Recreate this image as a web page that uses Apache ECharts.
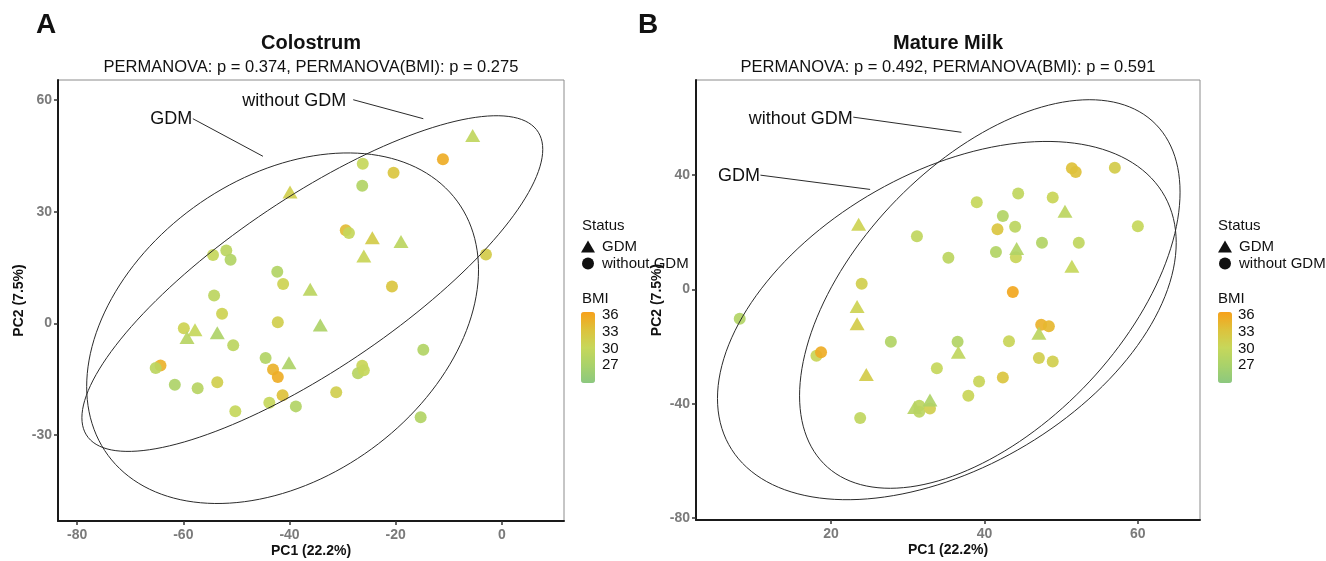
<!DOCTYPE html>
<html>
<head>
<meta charset="utf-8">
<script src="https://cdn.jsdelivr.net/npm/echarts@6/dist/echarts.min.js"></script>
<style>
  html, body { margin: 0; padding: 0; background: #fff; }
  #chart { width: 1326px; height: 561px; }
</style>
</head>
<body>
<div id="chart"></div>
<script>
// points: [PC1, PC2, BMI]
const colostrumNoGDM = [
  [-26.2, 42.9, 30], [-11.1, 44.1, 35.5], [-20.4, 40.5, 33], [-26.3, 37.0, 28],
  [-29.4, 25.0, 34], [-28.8, 24.3, 30], [-3.0, 18.5, 32], [-42.3, 13.9, 28],
  [-41.2, 10.6, 31], [-20.7, 9.9, 33], [-42.2, 0.3, 31.5], [-54.4, 18.4, 30],
  [-51.9, 19.6, 29], [-51.1, 17.1, 28], [-54.2, 7.5, 29], [-52.7, 2.6, 31],
  [-59.9, -1.3, 31], [-50.6, -5.9, 29], [-64.3, -11.3, 35], [-65.2, -12.0, 29],
  [-61.6, -16.5, 27.5], [-57.3, -17.4, 28.5], [-53.6, -15.8, 31.5], [-44.5, -9.3, 28],
  [-43.1, -12.4, 35], [-42.2, -14.4, 35.5], [-41.3, -19.3, 33.5], [-43.8, -21.3, 30],
  [-50.2, -23.6, 30], [-38.8, -22.3, 28], [-14.8, -7.1, 28], [-26.3, -11.4, 30.5],
  [-27.1, -13.4, 28.5], [-26.0, -12.6, 30], [-31.2, -18.5, 31.5], [-15.3, -25.2, 28]
];
const colostrumGDM = [
  [-5.5, 50.5, 29.5], [-39.9, 35.3, 31.5], [-24.4, 23.0, 32], [-19.0, 22.0, 29],
  [-26.0, 18.1, 30.5], [-36.1, 9.2, 29], [-34.2, -0.4, 27.5], [-57.8, -1.7, 30],
  [-59.3, -3.8, 28.5], [-53.6, -2.5, 27.5], [-40.1, -10.6, 27.5]
];
const matureNoGDM = [
  [31.2, 18.6, 29.5], [35.3, 11.1, 29], [39.0, 30.5, 30], [44.4, 33.6, 29.5],
  [42.4, 25.7, 28], [41.7, 21.1, 33], [44.0, 21.9, 29], [41.5, 13.1, 28],
  [44.1, 11.3, 30.5], [43.7, -0.9, 36], [47.5, 16.3, 28], [48.9, 32.2, 30.5],
  [52.3, 16.3, 29.5], [51.4, 42.4, 33.5], [51.9, 41.1, 33.5], [57.0, 42.6, 32],
  [60.0, 22.1, 30], [24.0, 2.0, 31.5], [8.1, -10.3, 28], [27.8, -18.3, 28],
  [36.5, -18.3, 28], [18.1, -23.2, 30.5], [18.7, -22.0, 35.5], [33.8, -27.6, 30],
  [37.9, -37.2, 30.5], [31.5, -40.7, 29], [31.5, -42.8, 29], [32.9, -41.7, 31.5],
  [23.8, -45.0, 29.5], [47.4, -12.4, 35], [48.4, -12.9, 34.5], [43.2, -18.1, 30.5],
  [47.1, -24.0, 31.5], [48.9, -25.2, 31.5], [42.4, -30.8, 33], [39.3, -32.2, 30.5]
];
const matureGDM = [
  [23.6, 22.8, 31], [44.2, 14.3, 28], [50.5, 27.4, 29], [51.4, 8.1, 30],
  [23.4, -6.0, 31], [23.4, -12.0, 32], [36.6, -22.0, 29.5], [24.6, -29.8, 32],
  [32.9, -38.7, 27.5], [30.9, -41.3, 28.5], [47.1, -15.3, 29]
];

// ellipses: [centre x, centre y, half width, half height, x offset of top point]
const ellColGDM = [-41.3, -1.3, 36.9, 47.1, 12.3];
const ellColNoGDM = [-35.7, 10.7, 43.4, 45.1, 34.7];
const ellMatGDM = [35.1, -10.9, 29.9, 62.7, 13.0];
const ellMatNoGDM = [40.7, -1.6, 24.8, 68.0, 13.0];

// labels of the ellipses: text anchor, pointer start, pointer end
const noteColGDM = [[-58.2, 55.0], [-58.2, 55.0], [-45.0, 44.9]];
const noteColNoGDM = [[-29.2, 59.7], [-28.0, 60.1], [-14.8, 55.0]];
const noteMatGDM = [[10.8, 39.8], [10.8, 40.0], [25.1, 35.0]];
const noteMatNoGDM = [[22.9, 59.5], [22.9, 60.3], [37.0, 55.0]];

const xTicksCol = [-80, -60, -40, -20, 0];
const yTicksCol = [-30, 0, 30, 60];
const xTicksMat = [20, 40, 60];
const yTicksMat = [-80, -40, 0, 40];
const bmiTicks = [36, 33, 30, 27];
const bmiRange = [23.8, 36.6];
const bmiColors = ['#8cc87f', '#a9d26a', '#c7d75a', '#ddc23c', '#f7a11a'];

const FONT = "'Liberation Sans', Arial, sans-serif";

function ellipsePoints(e) {
  const [cx, cy, hw, hh, top] = e;
  const a = top * hh / hw;
  const b = Math.sqrt(hh * hh - a * a);
  const pts = [];
  for (let i = 0; i <= 160; i++) {
    const t = i / 160 * 2 * Math.PI;
    pts.push([cx + hw * Math.cos(t), cy + a * Math.cos(t) + b * Math.sin(t)]);
  }
  return pts;
}

function xAxisCfg(gi, min, max, ticks) {
  return {
    type: 'value', gridIndex: gi, min: min, max: max,
    name: 'PC1 (22.2%)', nameLocation: 'middle', nameGap: 23, nameMoveOverlap: false,
    nameTextStyle: { fontFamily: FONT, fontWeight: 'bold', fontSize: 14, color: '#111' },
    axisLine: { show: true, onZero: false, lineStyle: { color: '#1a1a1a', width: 2 } },
    axisTick: { show: true, length: 4, customValues: ticks, lineStyle: { color: '#333', width: 1.5 } },
    axisLabel: { customValues: ticks, color: '#7a7a7a', fontWeight: 'bold', fontSize: 14, fontFamily: FONT, margin: 7 },
    splitLine: { show: false }
  };
}
function yAxisCfg(gi, min, max, ticks) {
  return {
    type: 'value', gridIndex: gi, min: min, max: max,
    name: 'PC2 (7.5%)', nameLocation: 'middle', nameGap: 32, nameMoveOverlap: false,
    nameTextStyle: { fontFamily: FONT, fontWeight: 'bold', fontSize: 14, color: '#111' },
    axisLine: { show: true, onZero: false, lineStyle: { color: '#1a1a1a', width: 2 } },
    axisTick: { show: true, length: 4, customValues: ticks, lineStyle: { color: '#333', width: 1.5 } },
    axisLabel: { customValues: ticks, color: '#7a7a7a', fontWeight: 'bold', fontSize: 14, fontFamily: FONT, margin: 6 },
    splitLine: { show: false }
  };
}

function pointSeries(name, gi, data, shape) {
  return {
    name: name, type: 'scatter', xAxisIndex: gi, yAxisIndex: gi, data: data,
    symbol: shape, symbolSize: shape === 'triangle' ? [15, 13] : 12,
    itemStyle: { opacity: 0.92 }, z: 2
  };
}
function ellipseSeries(gi, e) {
  return {
    type: 'line', xAxisIndex: gi, yAxisIndex: gi, data: ellipsePoints(e),
    symbol: 'none', silent: true, z: 3,
    lineStyle: { color: '#2b2b2b', width: 1 }
  };
}
function noteSeries(gi, text, note) {
  return [
    {
      type: 'line', xAxisIndex: gi, yAxisIndex: gi, data: [note[1], note[2]],
      symbol: 'none', silent: true, z: 3, lineStyle: { color: '#2b2b2b', width: 1 }
    },
    {
      type: 'scatter', xAxisIndex: gi, yAxisIndex: gi, silent: true, z: 4,
      symbolSize: 1, itemStyle: { color: 'rgba(0,0,0,0)', opacity: 1 },
      data: [{ name: text, value: note[0] }],
      label: { show: true, position: 'left', distance: 0, formatter: '{b}', opacity: 1,
               fontFamily: FONT, fontSize: 18, color: '#111' }
    }
  ];
}

function legendCfg(left) {
  return {
    left: left, top: 239, orient: 'vertical', padding: 0, itemGap: 2,
    itemWidth: 14, itemHeight: 12, selectedMode: false,
    textStyle: { fontFamily: FONT, fontSize: 15, color: '#111', padding: [0, 0, 0, 2] },
    data: [
      { name: 'GDM', icon: 'triangle', itemStyle: { color: '#111', opacity: 1 } },
      { name: 'without GDM', icon: 'circle', itemStyle: { color: '#111', opacity: 1 } }
    ]
  };
}
function bmiMap(series, left) {
  return {
    type: 'continuous', seriesIndex: series, dimension: 2,
    min: bmiRange[0], max: bmiRange[1], calculable: false,
    left: left, top: 312, itemWidth: 14, itemHeight: 71, padding: 0,
    inRange: { color: bmiColors }
  };
}
function legendTexts(x) {
  const items = [
    { type: 'text', style: { text: 'Status', x: x, y: 226, fontFamily: FONT, fontSize: 15, fill: '#111', verticalAlign: 'middle' } },
    { type: 'text', style: { text: 'BMI', x: x, y: 299, fontFamily: FONT, fontSize: 15, fill: '#111', verticalAlign: 'middle' } }
  ];
  bmiTicks.forEach(function (v) {
    const y = 312 + (bmiRange[1] - v) / (bmiRange[1] - bmiRange[0]) * 71;
    items.push({ type: 'text', style: { text: String(v), x: x + 20, y: y, fontFamily: FONT, fontSize: 15, fill: '#111', verticalAlign: 'middle' } });
  });
  return items;
}

const chart = echarts.init(document.getElementById('chart'));
chart.setOption({
  backgroundColor: '#fff',
  animation: false,
  title: [
    { text: 'Colostrum', subtext: 'PERMANOVA: p = 0.374, PERMANOVA(BMI): p = 0.275',
      left: 311, top: 33, textAlign: 'center', padding: 0, itemGap: 6,
      textStyle: { fontFamily: FONT, fontSize: 20, fontWeight: 'bold', color: '#111' },
      subtextStyle: { fontFamily: FONT, fontSize: 16.5, color: '#111' } },
    { text: 'Mature Milk', subtext: 'PERMANOVA: p = 0.492, PERMANOVA(BMI): p = 0.591',
      left: 948, top: 33, textAlign: 'center', padding: 0, itemGap: 6,
      textStyle: { fontFamily: FONT, fontSize: 20, fontWeight: 'bold', color: '#111' },
      subtextStyle: { fontFamily: FONT, fontSize: 16.5, color: '#111' } }
  ],
  grid: [
    { left: 58, top: 80, width: 506, height: 441, show: true, borderColor: '#8c8c8c', borderWidth: 1,
      outerBoundsMode: 'none', containLabel: false },
    { left: 696, top: 80, width: 504, height: 440, show: true, borderColor: '#8c8c8c', borderWidth: 1,
      outerBoundsMode: 'none', containLabel: false }
  ],
  xAxis: [xAxisCfg(0, -83.6, 11.7, xTicksCol), xAxisCfg(1, 2.4, 68.1, xTicksMat)],
  yAxis: [yAxisCfg(0, -53.1, 65.4, yTicksCol), yAxisCfg(1, -80.7, 73.3, yTicksMat)],
  legend: [legendCfg(581), legendCfg(1218)],
  visualMap: [bmiMap([0, 1], 581), bmiMap([2, 3], 1218)],
  graphic: [
    { type: 'text', style: { text: 'A', x: 36, y: 25, fontFamily: FONT, fontSize: 28, fontWeight: 'bold', fill: '#111', verticalAlign: 'middle' } },
    { type: 'text', style: { text: 'B', x: 638, y: 25, fontFamily: FONT, fontSize: 28, fontWeight: 'bold', fill: '#111', verticalAlign: 'middle' } }
  ].concat(legendTexts(582), legendTexts(1218)),
  series: [
    pointSeries('without GDM', 0, colostrumNoGDM, 'circle'),
    pointSeries('GDM', 0, colostrumGDM, 'triangle'),
    pointSeries('without GDM', 1, matureNoGDM, 'circle'),
    pointSeries('GDM', 1, matureGDM, 'triangle'),
    ellipseSeries(0, ellColGDM),
    ellipseSeries(0, ellColNoGDM),
    ellipseSeries(1, ellMatGDM),
    ellipseSeries(1, ellMatNoGDM)
  ].concat(
    noteSeries(0, 'GDM', noteColGDM),
    noteSeries(0, 'without GDM', noteColNoGDM),
    noteSeries(1, 'GDM', noteMatGDM),
    noteSeries(1, 'without GDM', noteMatNoGDM)
  )
});
</script>
</body>
</html>
